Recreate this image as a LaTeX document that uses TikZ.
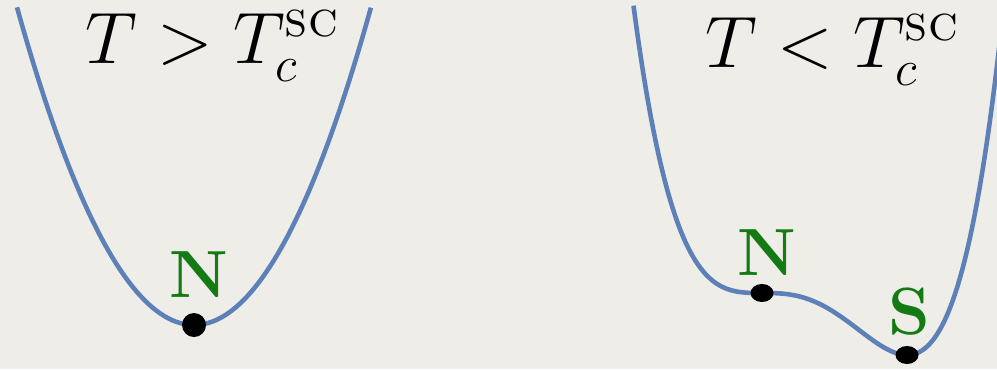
\documentclass[tikz,border=0pt]{standalone}
\usepackage{amsmath,amssymb}
\usepackage{tikz}
\definecolor{paper}{RGB}{238,237,231}
\definecolor{wellblue}{RGB}{93,128,185}
\definecolor{stategreen}{RGB}{20,122,20}

\begin{document}
\begin{tikzpicture}[x=1cm,y=1cm,
  well/.style={wellblue,line width=1.3pt},
  state/.style={stategreen,font=\fontsize{19}{21}\selectfont\bfseries,inner sep=0pt,anchor=base},
  phase/.style={font=\fontsize{20.5}{24}\selectfont,inner sep=0pt,anchor=base}]
\fill[paper] (0,0) rectangle (9.97,3.69);
\useasboundingbox (0,0) rectangle (9.97,3.69);
\clip (0,0) rectangle (9.97,3.69);
\draw[well,domain=-1.77:1.77,samples=90] plot ({1.94+(\x)},{0.44+1.014*(\x)*(\x)});
\draw[well,domain=-1.285:2.4,samples=150]
  plot ({7.62+(\x)},{0.76+0.4208*(\x)*(\x)*(\x)*(\x)-0.8135*(\x)*(\x)*(\x)});
\coordinate (n1) at (1.94,0.44);
\coordinate (n2) at (7.62,0.76);
\coordinate (s2) at (9.07,0.14);
\fill (n1) circle (0.12);
\fill (n2) ellipse (0.115 and 0.09);
\fill (s2) ellipse (0.115 and 0.09);
\node[state] (labN1) at (1.99,0.72) {N};
\node[state] (labN2) at (7.67,0.94) {N};
\node[state] (labS2) at (9.09,0.35) {S};
\node[phase] (hot) at (2.125,3.06) {$T>T_c^{\textsc{sc}}$};
\node[phase] (cold) at (8.325,3.02) {$T<T_c^{\textsc{sc}}$};
\end{tikzpicture}
\end{document}
